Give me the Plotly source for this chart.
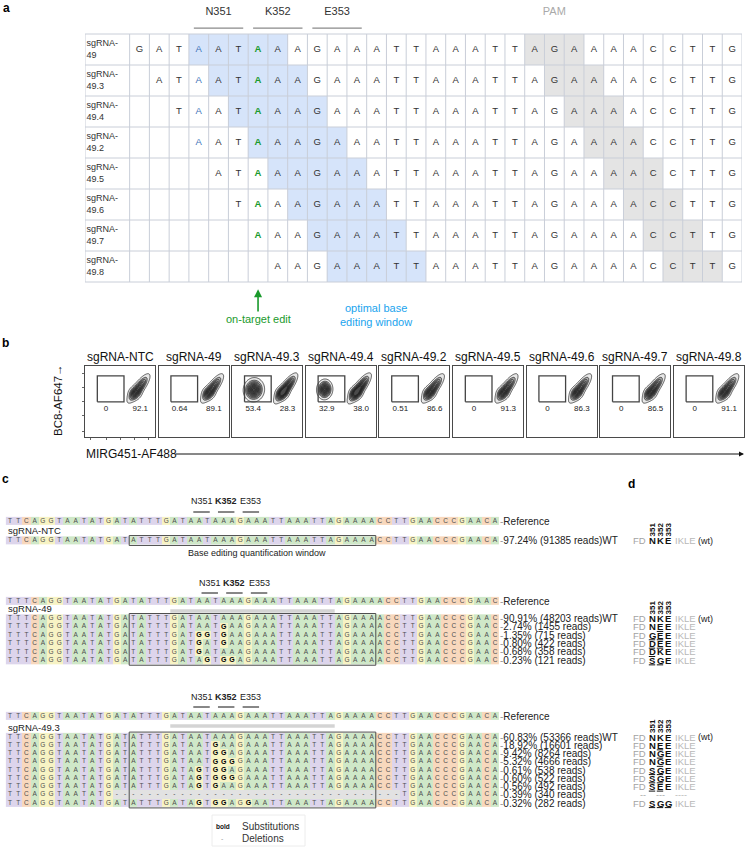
import numpy as np
import plotly.graph_objects as go

W, H = 746, 847
FONT = "Liberation Sans, Arial, Helvetica, sans-serif"

# ===================== DATA =====================
# ---- panel a : guide tiling table ----
a_sequence = "GATAATAAAGAAATTAAATTAGAAAACCTTG"
a_guides = ["sgRNA-49", "sgRNA-49.3", "sgRNA-49.4", "sgRNA-49.2",
            "sgRNA-49.5", "sgRNA-49.6", "sgRNA-49.7", "sgRNA-49.8"]
a_guide_start = [0, 1, 2, 3, 4, 5, 6, 7]
a_codon_labels = ["N351", "K352", "E353"]
a_codon_start = [3, 6, 9]
a_protospacer_len = 20
a_window = [4, 8]
a_pam_len = 3
a_target_col = 6
a_bystander_col = 3

# ---- panel b : flow gates ----
b_samples = ["sgRNA-NTC", "sgRNA-49", "sgRNA-49.3", "sgRNA-49.4", "sgRNA-49.2",
             "sgRNA-49.5", "sgRNA-49.6", "sgRNA-49.7", "sgRNA-49.8"]
b_left_pct = [0, 0.64, 53.4, 32.9, 0.51, 0, 0, 0, 0]
b_right_pct = [92.1, 89.1, 28.3, 38.0, 86.6, 91.3, 86.3, 86.5, 91.1]
# population outlines: centre x, centre y, sd major, sd minor, angle
b_right_pop = [0.765, 0.685, 0.105, 0.032, 53]
b_left_pop = {2: [0.31, 0.665, 0.068, 0.060, 80], 3: [0.27, 0.67, 0.058, 0.046, 85]}
b_gate = [0.176, 0.557, 0.495, 0.86]

# ---- panel c : amplicon alleles ----
c_ref_ntc = "TTCAGGTAATATGATATTTGATAATAAAGAAATTAAATTAGAAAACCTTGAACCCGAACA"
c_reads_ntc = ["TTCAGGTAATATGATATTTGATAATAAAGAAATTAAATTAGAAAACCTTGAACCCGAACA"]
c_pct_ntc = [97.24]
c_count_ntc = [91385]

c_ref_49 = "TTTCAGGTAATATGATATTTGATAATAAAGAAATTAAATTAGAAAACCTTGAACCCGAAC"
c_reads_49 = [
    "TTTCAGGTAATATGATATTTGATAATAAAGAAATTAAATTAGAAAACCTTGAACCCGAAC",
    "TTTCAGGTAATATGATATTTGATAATGAAGAAATTAAATTAGAAAACCTTGAACCCGAAC",
    "TTTCAGGTAATATGATATTTGATGGTGAAGAAATTAAATTAGAAAACCTTGAACCCGAAC",
    "TTTCAGGTAATATGATATTTGATGATGAAGAAATTAAATTAGAAAACCTTGAACCCGAAC",
    "TTTCAGGTAATATGATATTTGATGATAAAGAAATTAAATTAGAAAACCTTGAACCCGAAC",
    "TTTCAGGTAATATGATATTTGATAGTGGAGAAATTAAATTAGAAAACCTTGAACCCGAAC",
]
c_pct_49 = [90.91, 2.74, 1.35, 0.80, 0.68, 0.23]
c_count_49 = [48203, 1455, 715, 422, 358, 121]

c_ref_493 = "TTCAGGTAATATGATATTTGATAATAAAGAAATTAAATTAGAAAACCTTGAACCCGAACA"
c_reads_493 = [
    "TTCAGGTAATATGATATTTGATAATAAAGAAATTAAATTAGAAAACCTTGAACCCGAACA",
    "TTCAGGTAATATGATATTTGATAATGAAGAAATTAAATTAGAAAACCTTGAACCCGAACA",
    "TTCAGGTAATATGATATTTGATAATGGAGAAATTAAATTAGAAAACCTTGAACCCGAACA",
    "TTCAGGTAATATGATATTTGATAATGGGGAAATTAAATTAGAAAACCTTGAACCCGAACA",
    "TTCAGGTAATATGATATTTGATAGTGGAGAAATTAAATTAGAAAACCTTGAACCCGAACA",
    "TTCAGGTAATATGATATTTGATAGTGGGGAAATTAAATTAGAAAACCTTGAACCCGAACA",
    "TTCAGGTAATATGATATTTGATAGTGAAGAAATTAAATTAGAAAACCTTGAACCCGAACA",
    "TTCAGGTAATATG" + "-" * 35 + "TGAACCCGAACA",
    "TTCAGGTAATATGATATTTGATAGTGGAGGAATTAAATTAGAAAACCTTGAACCCGAACA",
]
c_pct_493 = [60.83, 18.92, 9.42, 5.32, 0.61, 0.60, 0.56, 0.39, 0.32]
c_count_493 = [53366, 16601, 8264, 4666, 538, 522, 492, 340, 282]

c_codon_labels = ["N351", "K352", "E353"]
c_codon_start_ntc = [22, 25, 28]
c_codon_start_49 = [23, 26, 29]
c_codon_start_493 = [22, 25, 28]
c_protospacer = [20, 39]
c_window = [15, 44]

# ---- panel d : protein consequence ----
d_prefix, d_suffix = "FD", "IKLE"
d_positions = ["351", "352", "353"]
d_wt = "NKE"
d_ntc = ["NKE"]
d_49 = ["NKE", "NEE", "GEE", "DEE", "DKE", "SGE"]
d_493 = ["NKE", "NEE", "NGE", "NGE", "SGE", "SGE", "SEE", "---", "SGG"]

# ===================== FIGURE =====================
fig = go.Figure()
ann = []
shapes = []


def px(x):
    return x / W


def py(y):
    return 1 - y / H


def label(x, y, text, size=10, color="#222", xanchor="left", **kw):
    ann.append(dict(x=px(x), y=py(y), xref="paper", yref="paper", text=text, showarrow=False,
                    xanchor=xanchor, yanchor="middle", font=dict(size=size, color=color, family=FONT), **kw))


# ---------- panel a ----------
LABEL_W = 2.26
n_cols = len(a_sequence)
n_rows = len(a_guides)
xa_edges = [-LABEL_W] + list(range(n_cols + 1))
za = []
for s in a_guide_start:
    row = [0]
    for c in range(n_cols):
        off = c - s
        if a_window[0] - 1 <= off <= a_window[1] - 1:
            v = 1
        elif a_protospacer_len <= off < a_protospacer_len + a_pam_len:
            v = 2
        else:
            v = 0
        row.append(v)
    za.append(row)
fig.add_trace(go.Heatmap(x=xa_edges, y=list(range(n_rows)), z=za, zmin=0, zmax=2,
                         colorscale=[[0, "#ffffff"], [0.5, "#d6e4fa"], [1, "#e4e4e4"]],
                         showscale=False, hoverinfo="skip", xaxis="x", yaxis="y"))
gx, gy = [], []
for e in xa_edges:
    gx += [e, e, None]
    gy += [-0.5, n_rows - 0.5, None]
for r in range(n_rows + 1):
    gx += [xa_edges[0], xa_edges[-1], None]
    gy += [r - 0.5, r - 0.5, None]
fig.add_trace(go.Scatter(x=gx, y=gy, mode="lines", line=dict(color="#c9ced8", width=1),
                         hoverinfo="skip", xaxis="x", yaxis="y"))

groups = {"n": ([], [], []), "b": ([], [], []), "g": ([], [], [])}
for r, s in enumerate(a_guide_start):
    for c in range(s, n_cols):
        key = "g" if c == a_target_col else ("b" if c == a_bystander_col else "n")
        groups[key][0].append(c + 0.5)
        groups[key][1].append(r)
        groups[key][2].append(a_sequence[c])
styles = {"n": dict(color="#333333", weight="normal"), "b": dict(color="#3b72b8", weight="normal"),
          "g": dict(color="#1a9a2c", weight="bold")}
for key, (xs, ys, ts) in groups.items():
    fig.add_trace(go.Scatter(x=xs, y=ys, text=ts, mode="text", textposition="middle center",
                             textfont=dict(size=9.5, family=FONT, **styles[key]),
                             hoverinfo="skip", xaxis="x", yaxis="y"))
fig.add_trace(go.Scatter(x=[-LABEL_W + 0.08] * n_rows, y=list(range(n_rows)),
                         text=[g.replace("-", "-<br>", 1) for g in a_guides], mode="text",
                         textposition="middle right", textfont=dict(size=9, color="#333", family=FONT),
                         hoverinfo="skip", xaxis="x", yaxis="y"))
lx, ly = [], []
for cs in a_codon_start:
    lx += [cs + 0.25, cs + 2.75, None]
    ly += [-0.69, -0.69, None]
fig.add_trace(go.Scatter(x=lx, y=ly, mode="lines", line=dict(color="#8a8a8a", width=1.2),
                         hoverinfo="skip", xaxis="x", yaxis="y"))
pam_c = a_guide_start[0] + a_protospacer_len + a_pam_len / 2
fig.add_trace(go.Scatter(x=[cs + 1.5 for cs in a_codon_start] + [pam_c], y=[-1.21] * 4,
                         text=a_codon_labels + ["PAM"], mode="text", textposition="middle center",
                         textfont=dict(size=11, color=["#333", "#333", "#333", "#a9a9a9"], family=FONT),
                         hoverinfo="skip", xaxis="x", yaxis="y"))
ann.append(dict(x=a_target_col + 0.5, y=7.73, ax=a_target_col + 0.5, ay=8.69, xref="x", yref="y",
                axref="x", ayref="y", text="on-target edit", showarrow=True, arrowhead=2,
                arrowsize=1, arrowwidth=1.6, arrowcolor="#1a9a2c",
                font=dict(size=11, color="#1a9a2c", family=FONT)))
ann.append(dict(x=12.47, y=8.56, xref="x", yref="y", text="optimal base<br>editing window",
                showarrow=False, font=dict(size=11, color="#1ba4ee", family=FONT)))

layout_axes = {}
layout_axes["xaxis"] = dict(domain=[px(85), px(742)], range=[-LABEL_W, n_cols], visible=False, fixedrange=True)
layout_axes["yaxis"] = dict(domain=[py(331.6), py(6.1)], range=[9.1, -1.4], visible=False, fixedrange=True)

# ---------- panel b ----------
grid = np.linspace(0, 1, 100)
GX, GY = np.meshgrid(grid, grid)


def pop(p):
    cx_, cy_, s1, s2, ang = p
    th = np.deg2rad(ang)
    dx, dy = GX - cx_, GY - cy_
    u = dx * np.cos(th) + dy * np.sin(th)
    v = -dx * np.sin(th) + dy * np.cos(th)
    return np.exp(-0.5 * ((u / s1) ** 2 + (v / s2) ** 2))


def fmt(v):
    if v == 0:
        return "0"
    return f"{v:.2f}" if v < 1 else f"{v:.1f}"


for i, name in enumerate(b_samples):
    xa, ya = f"x{i + 2}", f"y{i + 2}"
    x0 = 85 + i * 73.6
    z = pop(b_right_pop) + 0.6 * pop([b_right_pop[0] - 0.05, b_right_pop[1] - 0.065, 0.05, 0.042, 53])
    if i in b_left_pop:
        z = z + pop(b_left_pop[i])
    z = z / z.max() if i not in b_left_pop else np.minimum(z, 1)
    fig.add_trace(go.Contour(x=grid, y=grid, z=z, zmin=0, zmax=1, showscale=False, hoverinfo="skip",
                             contours=dict(coloring="fill", start=0.04, end=0.96, size=0.1),
                             colorscale=[[0, "rgba(255,255,255,0)"], [0.04, "rgba(255,255,255,0)"],
                                         [0.15, "#b0b0b0"], [1, "#4a4a4a"]],
                             line=dict(color="#1e1e1e", width=0.7), xaxis=xa, yaxis=ya))
    gl, gr, gb, gt = b_gate
    fig.add_trace(go.Scatter(x=[gl, gr, gr, gl, gl], y=[gb, gb, gt, gt, gb], mode="lines",
                             line=dict(color="#444", width=1.3), hoverinfo="skip", xaxis=xa, yaxis=ya))
    fig.add_trace(go.Scatter(x=[0.3, 0.79], y=[0.39, 0.39], text=[fmt(b_left_pct[i]), fmt(b_right_pct[i])],
                             mode="text", textposition="middle center",
                             textfont=dict(size=8, color="#222", family=FONT), hoverinfo="skip",
                             xaxis=xa, yaxis=ya))
    common = dict(range=[0, 1], showline=True, mirror=True, linecolor="#4a4a4a", linewidth=1,
                  showgrid=False, zeroline=False, showticklabels=False, fixedrange=True)
    tick = dict(ticks="outside", ticklen=2, tickcolor="#666", tickwidth=0.6,
                tickvals=[0.08, 0.3, 0.5, 0.7, 0.9]) if i == 0 else dict(ticks="")
    layout_axes[f"xaxis{i + 2}"] = dict(domain=[px(x0), px(x0 + 70)], anchor=ya, **common, **tick)
    layout_axes[f"yaxis{i + 2}"] = dict(domain=[py(437), py(366)], anchor=xa, **common, **tick)
    label(x0 + 35, 357, name, size=12, color="#111", xanchor="center")

label(58, 400, "BC8-AF647→", size=11.5, color="#111", xanchor="center", textangle=-90)
label(84, 454, "MIRG451-AF488", size=12, color="#111")
ann.append(dict(x=px(744), y=py(454), xref="paper", yref="paper", ax=-570, ay=0, text="",
                showarrow=True, arrowhead=2, arrowsize=1, arrowwidth=1, arrowcolor="#111"))

# ---------- panel c ----------
C0, S = 10.0, 8.22


def cx(p):
    return (p - C0) / S


NUC = {"A": 0, "T": 1, "C": 2, "G": 3, "-": 4}
nuc_scale = [[0, "#cfe8c8"], [0.25, "#ddd5ec"], [0.5, "#f8d8bd"], [0.75, "#f7f3c4"], [1, "#e2e2e2"]]


def seq_heat(rows, y_edges):
    zz = [[NUC[ch] for ch in r] for r in rows]
    return go.Heatmap(x=np.arange(len(rows[0]) + 1) - 0.5, y=y_edges, z=zz, zmin=0, zmax=4,
                      colorscale=nuc_scale, showscale=False, hoverinfo="skip", xaxis="x11", yaxis="y11")


blocks = [
    dict(ref=c_ref_ntc, reads=c_reads_ntc, pct=c_pct_ntc, cnt=c_count_ntc, prot=d_ntc, name="sgRNA-NTC",
         codon=c_codon_start_ntc, bar=False, yc=501, yl=512, yr=521, yn=530, yb=None, y0=540.5, dy=8.3),
    dict(ref=c_ref_49, reads=c_reads_49, pct=c_pct_49, cnt=c_count_49, prot=d_49, name="sgRNA-49",
         codon=c_codon_start_49, bar=True, yc=583, yl=593, yr=601, yn=608, yb=611, y0=618.5, dy=8.35),
    dict(ref=c_ref_493, reads=c_reads_493, pct=c_pct_493, cnt=c_count_493, prot=d_493, name="sgRNA-49.3",
         codon=c_codon_start_493, bar=True, yc=697, yl=707, yr=716, yn=727, yb=726, y0=737, dy=8.25),
]

tx_n, ty_n, tt_n = [], [], []
tx_b, ty_b, tt_b = [], [], []
lines_x, lines_y = [], []
bar_x, bar_y = [], []
box_x, box_y = [], []
ul_x, ul_y = [], []
d_cols = [652, 660, 668]

for blk in blocks:
    ref, reads, dy = blk["ref"], blk["reads"], blk["dy"]
    for lab, cs in zip(c_codon_labels, blk["codon"]):
        t = f"<b>{lab}</b>" if lab.startswith("K") else lab
        ann.append(dict(x=cs + 1.3, y=blk["yc"], xref="x11", yref="y11", text=t, showarrow=False,
                        font=dict(size=9, color="#222", family=FONT)))
        lines_x += [cs + 0.3, cs + 2.3, None]
        lines_y += [blk["yl"], blk["yl"], None]
    fig.add_trace(seq_heat([ref], [blk["yr"] - 4.1, blk["yr"] + 4.1]))
    for i, ch in enumerate(ref):
        tx_n.append(i); ty_n.append(blk["yr"]); tt_n.append(ch)
    ann.append(dict(x=cx(497.5), y=blk["yr"], xref="x11", yref="y11", xanchor="left",
                    text="<span style='color:#999'>-</span>Reference", showarrow=False,
                    font=dict(size=10, color="#222", family=FONT)))
    ann.append(dict(x=cx(6), y=blk["yn"], xref="x11", yref="y11", xanchor="left", text=blk["name"],
                    showarrow=False, font=dict(size=9.5, color="#222", family=FONT)))
    if blk["bar"]:
        bar_x += [c_protospacer[0] - 0.5, c_protospacer[1] + 0.5, None]
        bar_y += [blk["yb"], blk["yb"], None]
    n = len(reads)
    ys = [blk["y0"] + k * dy for k in range(n)]
    fig.add_trace(seq_heat(reads, [blk["y0"] - dy / 2 + k * dy for k in range(n + 1)]))
    for k, rd in enumerate(reads):
        for i, ch in enumerate(rd):
            if ch != "-" and ch != ref[i]:
                tx_b.append(i); ty_b.append(ys[k]); tt_b.append(ch)
            else:
                tx_n.append(i); ty_n.append(ys[k]); tt_n.append(ch)
        txt = f"{blk['pct'][k]:.2f}% ({blk['cnt'][k]} reads)" + ("WT" if k == 0 else "")
        ann.append(dict(x=cx(497.5), y=ys[k], xref="x11", yref="y11", xanchor="left",
                        text="<span style='color:#999'>-</span>" + txt, showarrow=False,
                        font=dict(size=10, color="#222", family=FONT)))
        prot = blk["prot"][k]
        if prot == "---":
            label(647.5, ys[k], "--", size=9, color="#aaa", xanchor="right")
            label(660, ys[k], "---", size=9, color="#aaa", xanchor="center")
            label(673, ys[k], "----", size=9, color="#bbb")
            continue
        label(647.5, ys[k], d_prefix, size=9.5, color="#a3a3a3", xanchor="right")
        for j, aa in enumerate(prot):
            label(d_cols[j], ys[k], f"<b>{aa}</b>", size=9.5, color="#111", xanchor="center")
            if aa != d_wt[j]:
                ul_x += [cx(d_cols[j] - 3.2), cx(d_cols[j] + 3.2), None]
                ul_y += [ys[k] + 4.6, ys[k] + 4.6, None]
        label(672.5, ys[k], d_suffix, size=9.5, color="#b8b8b8")
        if k == 0:
            label(696, ys[k], "(wt)", size=9, color="#222")
    for j, pos in enumerate(d_positions):
        label(d_cols[j], blk["y0"] - 11, f"<b>{pos}</b>", size=8, color="#111", xanchor="center",
              textangle=-90)
    x_l, x_r = c_window[0] - 0.5, c_window[1] + 0.5
    y_t, y_b = ys[0] - dy / 2 - 0.8, ys[-1] + dy / 2 + 0.8
    box_x += [x_l, x_r, x_r, x_l, x_l, None]
    box_y += [y_t, y_t, y_b, y_b, y_t, None]

ann.append(dict(x=(c_window[0] + c_window[1]) / 2 + 0.5, y=552.5, xref="x11", yref="y11",
                text="Base editing quantification window", showarrow=False,
                font=dict(size=9, color="#222", family=FONT)))

fig.add_trace(go.Scatter(x=tx_n, y=ty_n, text=tt_n, mode="text", textposition="middle center",
                         textfont=dict(size=6.5, color="#4d4d4d", family=FONT), hoverinfo="skip",
                         xaxis="x11", yaxis="y11"))
fig.add_trace(go.Scatter(x=tx_b, y=ty_b, text=tt_b, mode="text", textposition="middle center",
                         textfont=dict(size=7, color="#000", family=FONT, weight="bold"), hoverinfo="skip",
                         xaxis="x11", yaxis="y11"))
fig.add_trace(go.Scatter(x=lines_x, y=lines_y, mode="lines", line=dict(color="#111", width=1),
                         hoverinfo="skip", xaxis="x11", yaxis="y11"))
fig.add_trace(go.Scatter(x=bar_x, y=bar_y, mode="lines", line=dict(color="#d4d4d4", width=3.5),
                         hoverinfo="skip", xaxis="x11", yaxis="y11"))
fig.add_trace(go.Scatter(x=box_x, y=box_y, mode="lines", line=dict(color="#4d4d4d", width=1),
                         hoverinfo="skip", xaxis="x11", yaxis="y11"))
fig.add_trace(go.Scatter(x=ul_x, y=ul_y, mode="lines", line=dict(color="#111", width=1),
                         hoverinfo="skip", xaxis="x11", yaxis="y11"))

layout_axes["xaxis11"] = dict(domain=[0, 1], range=[cx(0), cx(W)], visible=False, fixedrange=True)
layout_axes["yaxis11"] = dict(domain=[0, py(470)], range=[H, 470], visible=False, fixedrange=True)

label(223, 826, "<b>bold</b>", size=6.5, color="#111", xanchor="center")
label(240, 826, "Substitutions", size=10, color="#333")
label(223, 838, "-", size=7, color="#999", xanchor="center")
label(240, 838, "Deletions", size=10, color="#333")
shapes.append(dict(type="rect", xref="paper", yref="paper", x0=px(212), x1=px(305), y0=py(846),
                   y1=py(815), line=dict(color="#ececec", width=1)))

for t, x, y in [("a", 6, 8), ("b", 5, 343), ("c", 5, 479), ("d", 631, 484)]:
    label(x, y, f"<b>{t}</b>", size=12, color="#000", xanchor="center")

fig.update_layout(width=W, height=H, margin=dict(l=0, r=0, t=0, b=0), paper_bgcolor="white",
                  plot_bgcolor="rgba(0,0,0,0)", showlegend=False, hovermode=False,
                  font=dict(family=FONT), annotations=ann, shapes=shapes, **layout_axes)
fig.write_html("out.html", config={"displayModeBar": False},
               post_script="document.body.style.margin='0px';document.body.style.overflow='hidden';")
